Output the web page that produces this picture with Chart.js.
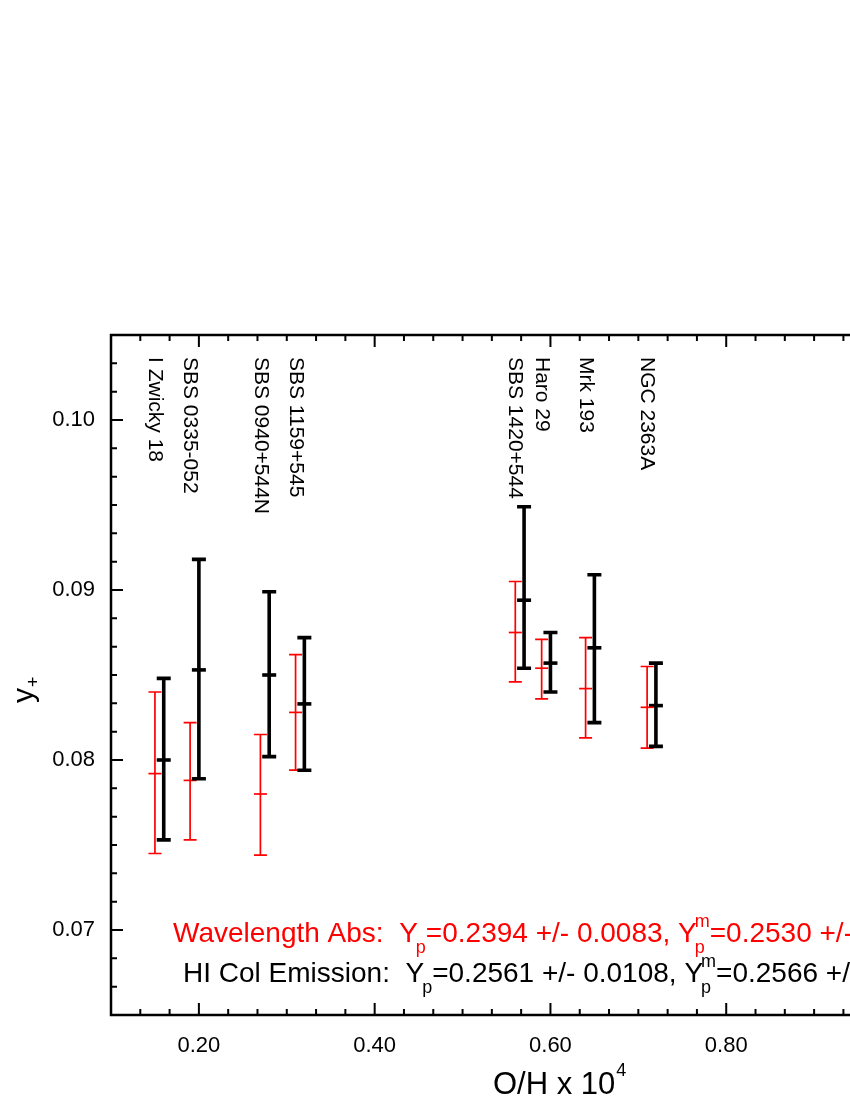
<!DOCTYPE html>
<html>
<head>
<meta charset="utf-8">
<script src="https://cdn.jsdelivr.net/npm/chart.js@4.4.0/dist/chart.umd.min.js"></script>
<style>
  html, body { margin: 0; padding: 0; background: #fff; overflow: hidden; }
  #wrap { width: 1000px; height: 1100px; }
</style>
</head>
<body>
<div id="wrap"><canvas id="c" width="1000" height="1100"></canvas></div>
<script>
// ---- data ----
const names = ['I Zwicky 18','SBS 0335-052','SBS 0940+544N','SBS 1159+545','SBS 1420+544','Haro 29','Mrk 193','NGC 2363A'];
const xRed   = [0.15, 0.19, 0.27, 0.31, 0.56, 0.59, 0.64, 0.71];
const xBlack = [0.16, 0.20, 0.28, 0.32, 0.57, 0.60, 0.65, 0.72];
const redY   = [0.0792, 0.0788, 0.0780, 0.0828, 0.0875, 0.0854, 0.0842, 0.0831];
const redLo  = [0.0745, 0.0753, 0.0744, 0.0794, 0.0846, 0.0836, 0.0813, 0.0807];
const redHi  = [0.0840, 0.0822, 0.0815, 0.0862, 0.0905, 0.0871, 0.0872, 0.0855];
const blackY  = [0.0800, 0.0853, 0.0850, 0.0833, 0.0894, 0.0857, 0.0866, 0.0832];
const blackLo = [0.0753, 0.0789, 0.0802, 0.0794, 0.0854, 0.0840, 0.0822, 0.0808];
const blackHi = [0.0848, 0.0918, 0.0899, 0.0872, 0.0949, 0.0875, 0.0909, 0.0857];
const xTicks = [0.2, 0.4, 0.6, 0.8, 1.0];
const yTicks = [0.07, 0.08, 0.09, 0.10];
const redNote   = [{t:'Wavelength Abs:  Y'},{sub:'p'},{t:'=0.2394 +/- 0.0083, Y'},{sub:'p',sup:'m'},{t:'=0.2530 +/-'}];
const blackNote = [{t:'HI Col Emission:  Y'},{sub:'p'},{t:'=0.2561 +/- 0.0108, Y'},{sub:'p',sup:'m'},{t:'=0.2566 +/-'}];

const FONT = "'Liberation Sans', Arial, Helvetica, sans-serif";
const RED = '#ff0000';

function pts(xs, ys){ return xs.map((x,i)=>({x:x, y:ys[i]})); }

const errorBars = {
  id: 'errorBars',
  afterDatasetsDraw(chart){
    const ctx = chart.ctx, xs = chart.scales.x, ys = chart.scales.y;
    const draw = (xv, lo, hi, color, lw, cap) => {
      ctx.save();
      ctx.strokeStyle = color; ctx.lineWidth = lw; ctx.lineCap = 'butt';
      for (let i = 0; i < xv.length; i++) {
        const px = xs.getPixelForValue(xv[i]);
        const p1 = ys.getPixelForValue(lo[i]);
        const p2 = ys.getPixelForValue(hi[i]);
        ctx.beginPath();
        ctx.moveTo(px, p1); ctx.lineTo(px, p2);
        ctx.moveTo(px - cap, p1); ctx.lineTo(px + cap, p1);
        ctx.moveTo(px - cap, p2); ctx.lineTo(px + cap, p2);
        ctx.stroke();
      }
      ctx.restore();
    };
    draw(xRed, redLo, redHi, RED, 1.7, 6.5);
    draw(xBlack, blackLo, blackHi, '#000', 3.6, 7);
  }
};

const frame = {
  id: 'frame',
  afterDraw(chart){
    const ctx = chart.ctx, a = chart.chartArea, xs = chart.scales.x, ys = chart.scales.y;
    ctx.save();
    ctx.strokeStyle = '#000'; ctx.lineWidth = 2.5;
    ctx.strokeRect(a.left, a.top, a.right - a.left, a.bottom - a.top);
    ctx.lineWidth = 2;
    const xStep = 0.2 / 6;
    for (let k = 0; ; k++) {
      const v = xs.min + k * xStep;
      if (v > xs.max + 1e-9) break;
      const major = Math.abs((v / 0.2) - Math.round(v / 0.2)) < 1e-6;
      const L = major ? 12 : 6;
      const px = xs.getPixelForValue(v);
      ctx.beginPath();
      ctx.moveTo(px, a.bottom); ctx.lineTo(px, a.bottom - L);
      ctx.moveTo(px, a.top); ctx.lineTo(px, a.top + L);
      ctx.stroke();
    }
    const yStep = 0.01 / 6;
    for (let k = 0; ; k++) {
      const v = ys.min + k * yStep;
      if (v > ys.max + 1e-9) break;
      const major = Math.abs((v / 0.01) - Math.round(v / 0.01)) < 1e-6;
      const L = major ? 12 : 6;
      const py = ys.getPixelForValue(v);
      ctx.beginPath();
      ctx.moveTo(a.left, py); ctx.lineTo(a.left + L, py);
      ctx.moveTo(a.right, py); ctx.lineTo(a.right - L, py);
      ctx.stroke();
    }
    ctx.restore();

    // galaxy names, rotated
    ctx.save();
    ctx.fillStyle = '#000';
    ctx.font = '21px ' + FONT;
    ctx.textAlign = 'left'; ctx.textBaseline = 'middle';
    names.forEach((n, i) => {
      const px = xs.getPixelForValue(xRed[i]);
      ctx.save();
      ctx.translate(px, a.top + 22);
      ctx.rotate(Math.PI / 2);
      ctx.fillText(n, 0, 0);
      ctx.restore();
    });
    ctx.restore();

    const rich = (parts, x, y, color) => {
      ctx.save();
      ctx.fillStyle = color; ctx.textBaseline = 'alphabetic'; ctx.textAlign = 'left';
      let cx = x;
      parts.forEach(p => {
        if (p.t !== undefined) {
          ctx.font = '28px ' + FONT;
          ctx.fillText(p.t, cx, y);
          cx += ctx.measureText(p.t).width;
        } else {
          ctx.font = '18px ' + FONT;
          let w = 0;
          const sx = cx - 2;
          if (p.sub) { ctx.fillText(p.sub, sx, y + 11); w = Math.max(w, ctx.measureText(p.sub).width); }
          if (p.sup) { ctx.fillText(p.sup, sx, y - 15); w = Math.max(w, ctx.measureText(p.sup).width); }
          cx = sx + w;
        }
      });
      ctx.restore();
    };
    rich(redNote, 173, 942, RED);
    rich(blackNote, 183, 982, '#000');

    // x-axis title
    ctx.save();
    ctx.fillStyle = '#000'; ctx.textBaseline = 'alphabetic'; ctx.textAlign = 'left';
    ctx.font = '31px ' + FONT;
    const t1 = 'O/H x 10';
    const w1 = ctx.measureText(t1).width;
    const tx = 493;
    ctx.fillText(t1, tx, 1094);
    ctx.font = '18px ' + FONT;
    ctx.fillText('4', tx + w1 + 1, 1076);
    ctx.restore();

    // y-axis title
    ctx.save();
    ctx.fillStyle = '#000'; ctx.textBaseline = 'alphabetic'; ctx.textAlign = 'left';
    ctx.translate(33, 703);
    ctx.rotate(-Math.PI / 2);
    ctx.font = '30px ' + FONT;
    ctx.fillText('y', 0, 0);
    const wy = ctx.measureText('y').width;
    ctx.font = '18px ' + FONT;
    ctx.fillText('+', wy + 1, 6);
    ctx.restore();
  }
};

new Chart(document.getElementById('c'), {
  type: 'scatter',
  data: {
    datasets: [
      { data: pts(xRed, redY), pointStyle: 'line', radius: 6.5, hoverRadius: 6.5,
        borderColor: RED, backgroundColor: RED, borderWidth: 1.7, showLine: false },
      { data: pts(xBlack, blackY), pointStyle: 'line', radius: 7, hoverRadius: 7,
        borderColor: '#000', backgroundColor: '#000', borderWidth: 3.6, showLine: false }
    ]
  },
  options: {
    responsive: false,
    animation: false,
    devicePixelRatio: 1,
    events: [],
    layout: { padding: { top: 335, right: 98, left: 0, bottom: 0 } },
    plugins: { legend: { display: false }, tooltip: { enabled: false }, title: { display: false } },
    scales: {
      x: {
        type: 'linear', position: 'bottom', min: 0.1, max: 1.0,
        grid: { display: false, drawTicks: false }, border: { display: false },
        afterBuildTicks: s => { s.ticks = xTicks.map(v => ({ value: v })); },
        afterFit: s => { s.height = 85; },
        ticks: { color: '#000', font: { family: FONT, size: 22 }, padding: 18, maxRotation: 0, autoSkip: false,
                 callback: v => Number(v).toFixed(2) }
      },
      y: {
        type: 'linear', position: 'left', min: 0.065, max: 0.105,
        grid: { display: false, drawTicks: false }, border: { display: false },
        afterBuildTicks: s => { s.ticks = yTicks.map(v => ({ value: v })); },
        afterFit: s => { s.width = 111; },
        ticks: { color: '#000', font: { family: FONT, size: 22 }, padding: 16, autoSkip: false,
                 callback: v => Number(v).toFixed(2) }
      }
    }
  },
  plugins: [errorBars, frame]
});
</script>
</body>
</html>
